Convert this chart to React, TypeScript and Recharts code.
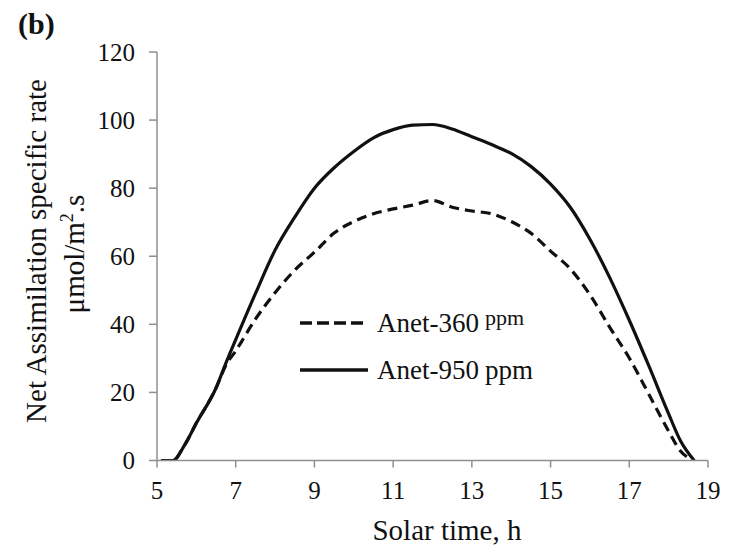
import React from "react";
import { LineChart, Line, XAxis, YAxis, Customized } from "recharts";

const times = [5.1, 5.4, 5.7, 6.0, 6.5, 6.75, 7.0, 7.5, 8.0, 8.5, 9.0, 9.5, 10.0, 10.5, 11.0, 11.5, 12.0, 12.5, 13.0, 13.5, 14.0, 14.5, 15.0, 15.5, 16.0, 16.5, 17.0, 17.5, 18.0, 18.3, 18.65];
const anet950 = [0, 0, 4.5, 11, 21.3, 28.6, 35.5, 49, 61.8, 71.5, 80, 86, 90.8, 94.8, 97.2, 98.5, 98.7, 97.4, 95.1, 92.8, 90.2, 86.4, 81.2, 74.4, 65, 53.8, 41.2, 27.7, 13.7, 5.8, 0];
const anet360 = [0, 0, 4.5, 11, 21.3, 28, 32.2, 41.5, 49.3, 55.9, 61.2, 66.8, 70.2, 72.5, 73.9, 75, 76.4, 74.4, 73.3, 72.5, 70.2, 66.8, 61.5, 56.3, 48.7, 39.2, 30.1, 19.4, 8.6, 2.8, 0];
const xTicks = [5, 7, 9, 11, 13, 15, 17, 19];
const yTicks = [0, 20, 40, 60, 80, 100, 120];
const seriesNames = ["Anet-360", "Anet-950"];
const unitLabel = "ppm";

const data = times.map((t, i) => ({ t, a360: anet360[i], a950: anet950[i] }));

const FONT = "'Liberation Serif', 'Times New Roman', serif";
const AXIS = "#8f8f8f";
const INK = "#111";

const Overlay = () => (
  <g fontFamily={FONT} fill={INK}>
    <text x={10} y={26} fontSize={30} fontWeight="bold">(b)</text>
    <text x={38} y={243} fontSize={29} textAnchor="middle" transform="rotate(-90, 38, 243)">
      Net Assimilation specific rate
    </text>
    <text x={76} y={246} fontSize={29} textAnchor="middle" transform="rotate(-90, 76, 246)">
      μmol/m<tspan fontSize={18} dy={-11}>2</tspan><tspan dy={11}>.s</tspan>
    </text>
    <text x={439} y={532} fontSize={29} textAnchor="middle">Solar time, h</text>
    <line x1={292} y1={315} x2={360} y2={315} stroke={INK} strokeWidth={3.5} strokeDasharray="12 5" />
    <text x={369} y={324} fontSize={27}>{seriesNames[0]}</text>
    <text x={477} y={317} fontSize={22}>{unitLabel}</text>
    <line x1={292} y1={362} x2={360} y2={362} stroke={INK} strokeWidth={3.5} />
    <text x={369} y={371} fontSize={27}>{seriesNames[1]}</text>
    <text x={477} y={371} fontSize={27}>{unitLabel}</text>
  </g>
);

export default function App() {
  const tickStyle = { fill: INK, fontSize: 25, fontFamily: FONT };
  return (
    <LineChart width={724} height={542} data={data} margin={{ top: 44, right: 24, bottom: 49.5, left: 0 }}>
      <XAxis
        type="number"
        dataKey="t"
        domain={[5, 19]}
        ticks={xTicks}
        allowDataOverflow
        stroke={AXIS}
        strokeWidth={1.5}
        tickSize={7}
        tickMargin={14}
        tick={tickStyle}
        height={40}
      />
      <YAxis
        type="number"
        domain={[0, 120]}
        ticks={yTicks}
        allowDataOverflow
        stroke={AXIS}
        strokeWidth={1.5}
        tickSize={8}
        tickMargin={14}
        tick={tickStyle}
        width={149}
      />
      <Line dataKey="a360" type="monotone" stroke={INK} strokeWidth={3.2} strokeDasharray="10 6" dot={false} isAnimationActive={false} />
      <Line dataKey="a950" type="monotone" stroke={INK} strokeWidth={3.2} dot={false} isAnimationActive={false} />
      <Customized component={<Overlay />} />
    </LineChart>
  );
}
